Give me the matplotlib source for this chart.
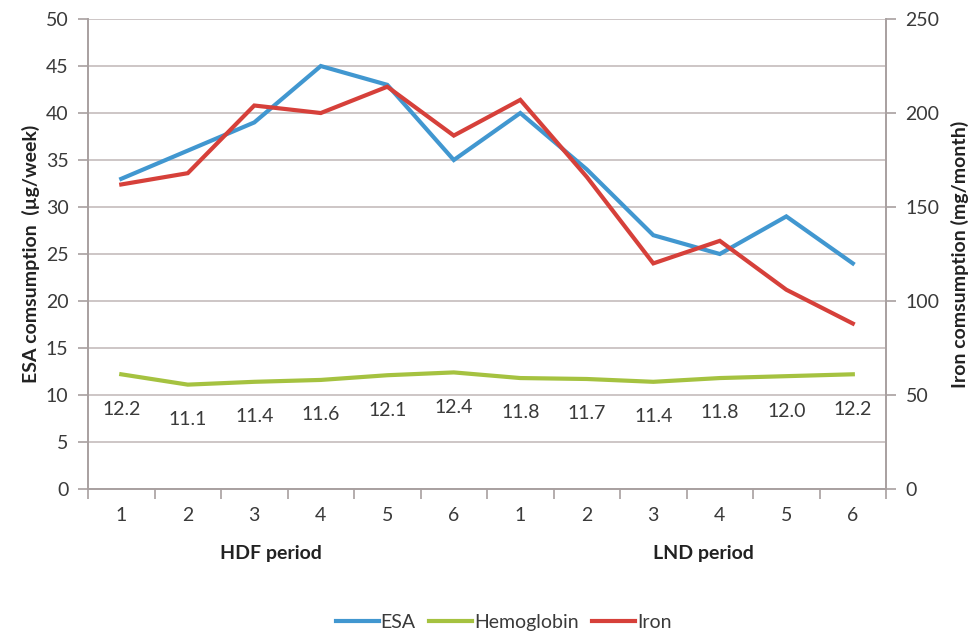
import numpy as np
import matplotlib.pyplot as plt

# ----------------------------------------------------------------------------------------------------------------------
# Data

periods = ["1", "2", "3", "4", "5", "6", "1", "2", "3", "4", "5", "6"]
group_names = ["HDF period", "LND period"]

esa = [33, 36, 39, 45, 43, 35, 40, 34, 27, 25, 29, 24]                      # µg/week, left axis
hemoglobin = [12.2, 11.1, 11.4, 11.6, 12.1, 12.4, 11.8, 11.7, 11.4, 11.8, 12.0, 12.2]   # left axis
iron = [162, 168, 204, 200, 214, 188, 207, 166, 120, 132, 106, 88]          # mg/month, right axis

# ----------------------------------------------------------------------------------------------------------------------

plt.rcParams["font.family"] = ["Lato", "DejaVu Sans"]

c_esa = "#4197d0"
c_hb = "#a5c240"
c_iron = "#d6403a"
c_grid = "#c9c2c2"
c_text = "#3a3a3a"
fs = 14

fig = plt.figure(figsize=(9.78, 6.35), dpi=100)
ax = fig.add_axes([0.090, 0.230, 0.816, 0.740])
ax2 = ax.twinx()

x = np.arange(len(periods))

# Lines
l_esa, = ax.plot(x, esa, color=c_esa, lw=3, solid_joinstyle="miter", zorder=3)
l_hb, = ax.plot(x, hemoglobin, color=c_hb, lw=3, zorder=3)
l_iron, = ax2.plot(x, iron, color=c_iron, lw=3, solid_joinstyle="miter", zorder=3)

# Hemoglobin value labels below the line
for xi, v in zip(x, hemoglobin):
    ax.annotate(f"{v:.1f}", (xi, v), xytext=(0, -19), textcoords="offset points",
                ha="center", va="top", fontsize=fs, color=c_text)

# Left axis
ax.set_ylim(0, 50)
ax.set_yticks(np.arange(0, 51, 5))
ax.set_xlim(-0.5, len(periods) - 0.5)
ax.grid(axis="y", color=c_grid, lw=1.3)
ax.set_axisbelow(True)
ax.set_ylabel("ESA comsumption  (µg/week)", fontsize=fs, fontweight="bold", color="#222222", labelpad=4)

# Right axis
ax2.set_ylim(0, 250)
ax2.set_yticks(np.arange(0, 251, 50))
ax2.set_ylabel("Iron comsumption (mg/month)", fontsize=fs, fontweight="bold", color="#222222", labelpad=8)

# Category labels and separator ticks
ax.set_xticks(x)
ax.set_xticklabels(periods, fontsize=fs, color=c_text)
ax.tick_params(axis="x", which="major", length=0, pad=13)
ax.set_xticks(np.arange(-0.5, len(periods), 1), minor=True)
ax.tick_params(axis="x", which="minor", length=7, color="#a8a0a0", width=1.2)

ax.tick_params(axis="y", labelsize=fs, labelcolor=c_text, length=7, color="#a8a0a0", width=1.2, pad=7)
ax2.tick_params(axis="y", labelsize=fs, labelcolor=c_text, length=7, color="#a8a0a0", width=1.2, pad=7)

for a in (ax, ax2):
    a.spines["top"].set_visible(False)
    for s in ("left", "right", "bottom"):
        a.spines[s].set_color("#a8a0a0")
        a.spines[s].set_linewidth(1.2)

# Group labels
group_centers = [2.25, 8.75]
for gx, name in zip(group_centers, group_names):
    ax.text(gx, -0.138, name, transform=ax.get_xaxis_transform(), ha="center", va="center",
            fontsize=fs, fontweight="bold", color="#222222")

# Legend
fig.legend([l_esa, l_hb, l_iron], ["ESA", "Hemoglobin", "Iron"], loc="center",
           bbox_to_anchor=(0.515, 0.020), ncol=3, frameon=False, fontsize=fs,
           handlelength=2.2, handletextpad=0.1, columnspacing=0.7, labelcolor=c_text)

fig.savefig("out.png", dpi=100)
